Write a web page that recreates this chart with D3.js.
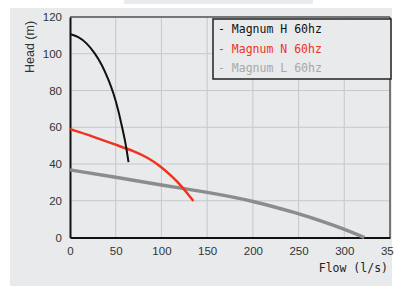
<!DOCTYPE html>
<html>
<head>
<meta charset="utf-8">
<script src="https://cdn.jsdelivr.net/npm/d3@7"></script>
<style>
  body { margin: 0; background: #fff; }
  svg { display: block; }
</style>
</head>
<body>
<div id="chart"></div>
<script>
let width = 394, height = 286;

// pump curves, flow (l/s) vs head (m)
let seriesNames = ["Magnum H 60hz", "Magnum N 60hz", "Magnum L 60hz"];
let seriesColors = ["#111111", "#f0321e", "#8c8c8c"];
let seriesText = ["#111111", "#f0321e", "#a8a8a8"];
let seriesWidth = [2, 2.5, 3.5];

let flowH = [0, 9, 18, 27, 35, 42, 48, 53, 57, 61, 64];
let headH = [110.7, 109.4, 106, 100.5, 94, 86, 78, 69, 60, 51, 41];
let flowN = [0, 25, 50, 70, 85, 100, 112, 122, 130, 135];
let headN = [59, 55, 50.5, 47, 43.5, 38.5, 33, 28, 23, 19.9];
let flowL = [0, 50, 100, 150, 200, 250, 275, 300, 322];
let headL = [36.8, 32.8, 28.5, 24.7, 20, 13, 9, 4.6, 0];

let xTicks = [0, 50, 100, 150, 200, 250, 300, 350];
let yTicks = [0, 20, 40, 60, 80, 100, 120];

let svg = d3.select("#chart").append("svg")
    .attr("width", width)
    .attr("height", height);

// top strip and panel background
svg.append("rect").attr("x", 124).attr("y", 0).attr("width", 189).attr("height", 4).attr("fill", "#e8eaeb");
svg.append("rect").attr("x", 10).attr("y", 8).attr("width", 382).attr("height", 278).attr("fill", "#e8eaeb");

let x = d3.scaleLinear().domain([0, 350]).range([70, 390]);
let y = d3.scaleLinear().domain([0, 120]).range([237.5, 17]);

// grid
svg.append("g").selectAll("line").data(xTicks.slice(1)).enter().append("line")
    .attr("x1", d => x(d)).attr("x2", d => x(d))
    .attr("y1", y(0)).attr("y2", y(120))
    .attr("stroke", "#c3c9cd").attr("stroke-width", 1);
svg.append("g").selectAll("line").data(yTicks.slice(1)).enter().append("line")
    .attr("x1", x(0)).attr("x2", x(350))
    .attr("y1", d => y(d)).attr("y2", d => y(d))
    .attr("stroke", "#c3c9cd").attr("stroke-width", 1);

// frame
svg.append("line").attr("x1", x(0)).attr("x2", x(350)).attr("y1", y(120)).attr("y2", y(120))
    .attr("stroke", "#555").attr("stroke-width", 1.5);
svg.append("line").attr("x1", x(350)).attr("x2", x(350)).attr("y1", y(120)).attr("y2", y(0))
    .attr("stroke", "#555").attr("stroke-width", 1.5);

// axes
let xAxis = svg.append("g")
    .attr("transform", "translate(0," + y(0) + ")")
    .call(d3.axisBottom(x).tickValues(xTicks).tickSize(0).tickPadding(9));
let yAxis = svg.append("g")
    .attr("transform", "translate(" + x(0) + ",0)")
    .call(d3.axisLeft(y).tickValues(yTicks).tickSize(0).tickPadding(8));
[xAxis, yAxis].forEach(a => {
  a.select(".domain").attr("stroke", "#111").attr("stroke-width", 2);
  a.selectAll("text")
    .attr("font-family", "Liberation Sans, Arial, sans-serif")
    .attr("font-size", 11.5)
    .attr("fill", "#333");
});

// curves
let line = d3.line()
    .x(d => x(d[0]))
    .y(d => y(d[1]))
    .curve(d3.curveBasis);

let curves = [
  d3.zip(flowH, headH),
  d3.zip(flowN, headN),
  d3.zip(flowL, headL)
];

// draw L first so that N and H sit on top
[2, 1, 0].forEach(i => {
  svg.append("path")
    .datum(curves[i])
    .attr("d", line)
    .attr("fill", "none")
    .attr("stroke", seriesColors[i])
    .attr("stroke-width", seriesWidth[i])
    .attr("stroke-linecap", "butt");
});

// legend
svg.append("rect")
    .attr("x", 213).attr("y", 19).attr("width", 178).attr("height", 60)
    .attr("fill", "#e8eaeb").attr("stroke", "#222").attr("stroke-width", 1.5);

svg.append("g").selectAll("text").data(seriesNames).enter().append("text")
    .attr("x", 218)
    .attr("y", (d, i) => 33 + i * 19.5)
    .attr("font-family", "DejaVu Sans Mono, monospace")
    .attr("font-size", 11.5)
    .attr("fill", (d, i) => seriesText[i])
    .text(d => "- " + d);

// axis titles
svg.append("text")
    .attr("transform", "translate(34,47) rotate(-90)")
    .attr("text-anchor", "middle")
    .attr("font-family", "Liberation Sans, Arial, sans-serif")
    .attr("font-size", 12.5)
    .attr("fill", "#333")
    .text("Head (m)");

svg.append("text")
    .attr("x", 388).attr("y", 272)
    .attr("text-anchor", "end")
    .attr("font-family", "DejaVu Sans Mono, monospace")
    .attr("font-size", 11.5)
    .attr("fill", "#222")
    .text("Flow (l/s)");
</script>
</body>
</html>
